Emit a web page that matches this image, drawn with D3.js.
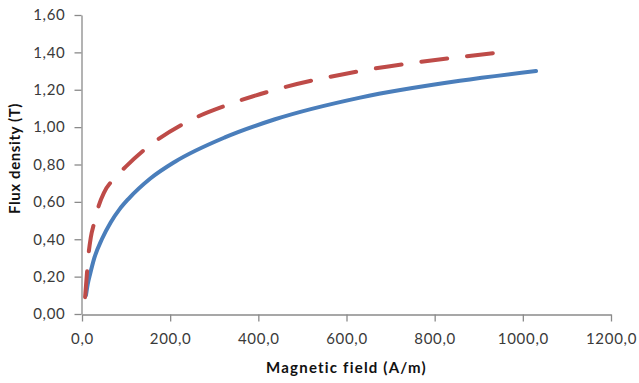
<!DOCTYPE html>
<html>
<head>
<meta charset="utf-8">
<script src="https://cdn.jsdelivr.net/npm/d3@7"></script>
<style>
  html, body { margin: 0; padding: 0; background: #fff; }
  svg { display: block; }
  .tick text { font-family: Lato, "Open Sans", sans-serif; font-size: 15px; fill: #3a3a3a; letter-spacing: 0.7px; }
  .title { font-family: Lato, "Open Sans", sans-serif; font-size: 15px; font-weight: bold; fill: #111; }
</style>
</head>
<body>
<svg id="chart" width="639" height="383"></svg>
<script>
// Magnetic field H (A/m) and flux density B (T) for the two curves
const solidH = [9, 13, 18, 28, 45, 65, 85, 105, 155, 211, 324, 438, 631, 857, 1030];
const solidB = [0.10, 0.16, 0.21, 0.30, 0.40, 0.49, 0.56, 0.615, 0.725, 0.815, 0.945, 1.042, 1.158, 1.248, 1.30];

const dashedH = [7, 10, 14, 20, 28, 38, 50, 75, 100, 150, 240, 340, 438, 631, 857, 948];
const dashedB = [0.09, 0.18, 0.30, 0.41, 0.49, 0.58, 0.65, 0.73, 0.79, 0.895, 1.03, 1.127, 1.20, 1.30, 1.375, 1.40];

const xTicks = [0, 200, 400, 600, 800, 1000, 1200];
const yTicks = [0, 0.2, 0.4, 0.6, 0.8, 1.0, 1.2, 1.4, 1.6];

const xTitle = "Magnetic field (A/m)";
const yTitle = "Flux density (T)";

const locale = d3.formatLocale({ decimal: ",", thousands: ".", grouping: [3], currency: ["", ""] });
const fmtX = locale.format(".1f");
const fmtY = locale.format(".2f");

const svg = d3.select("#chart");
const plot = { left: 82, right: 611, top: 15, bottom: 314 };

const x = d3.scaleLinear().domain([0, 1200]).range([plot.left, plot.right]);
const y = d3.scaleLinear().domain([0, 1.6]).range([plot.bottom, plot.top]);

const axisColor = "#8a8a8a";

// Y axis
const gy = svg.append("g")
  .attr("transform", `translate(${plot.left - 0.5},0)`)
  .call(d3.axisLeft(y).tickValues(yTicks).tickFormat(fmtY).tickSizeInner(7).tickSizeOuter(0).tickPadding(9));
gy.select(".domain").attr("stroke", axisColor).attr("stroke-width", 1.3);
gy.selectAll(".tick line").attr("stroke", axisColor).attr("stroke-width", 1.3);

// X axis
const gx = svg.append("g")
  .attr("transform", `translate(0,${plot.bottom + 0.5})`)
  .call(d3.axisBottom(x).tickValues(xTicks).tickFormat(fmtX).tickSizeInner(7).tickSizeOuter(0).tickPadding(12));
gx.select(".domain").attr("stroke", axisColor).attr("stroke-width", 1.3);
gx.selectAll(".tick line").attr("stroke", axisColor).attr("stroke-width", 1.3);

// Axis titles
svg.append("text").attr("class", "title")
  .attr("x", (plot.left + plot.right) / 2).attr("y", 373)
  .attr("text-anchor", "middle").style("letter-spacing", "1.2px").text(xTitle);
svg.append("text").attr("class", "title")
  .attr("transform", `translate(20,${(plot.top + plot.bottom) / 2 - 6}) rotate(-90)`)
  .attr("text-anchor", "middle").style("letter-spacing", "0.6px").text(yTitle);

// Curves
const line = d3.line()
  .x(d => x(d[0]))
  .y(d => y(d[1]))
  .curve(d3.curveMonotoneX);

const solid = solidH.map((h, i) => [h, solidB[i]]);
const dashed = dashedH.map((h, i) => [h, dashedB[i]]);

svg.append("path")
  .datum(solid)
  .attr("d", line)
  .attr("fill", "none")
  .attr("stroke", "#4a7ebb")
  .attr("stroke-width", 4)
  .attr("stroke-linecap", "round")
  .attr("stroke-linejoin", "round");

svg.append("path")
  .datum(dashed)
  .attr("d", line)
  .attr("fill", "none")
  .attr("stroke", "#be4b48")
  .attr("stroke-width", 4)
  .attr("stroke-linecap", "round")
  .attr("stroke-linejoin", "round")
  .attr("stroke-dasharray", "26,20");
</script>
</body>
</html>
